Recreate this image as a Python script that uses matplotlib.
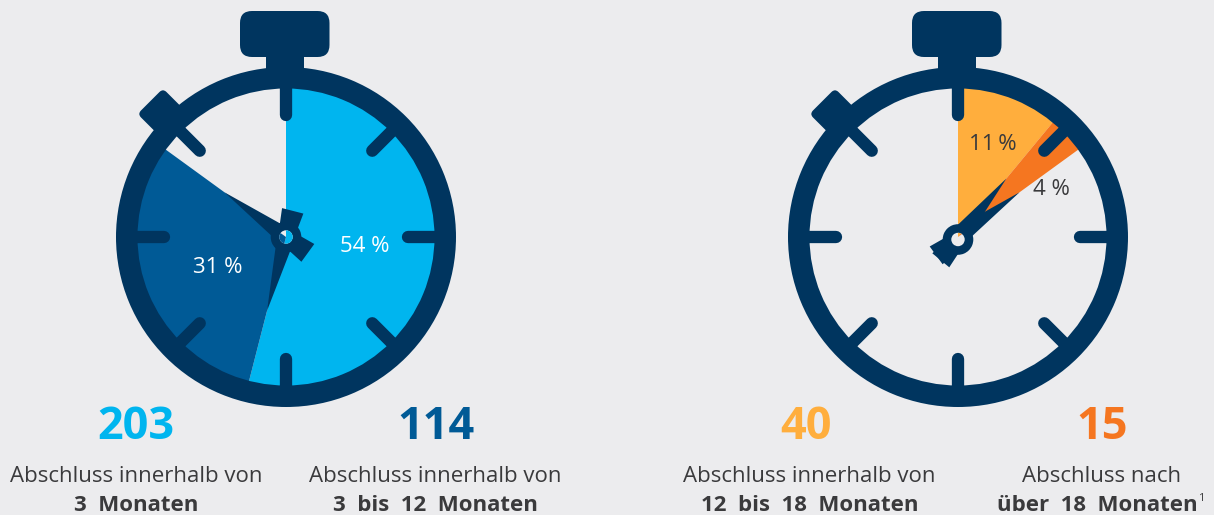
import numpy as np
import matplotlib
matplotlib.use("Agg")
import matplotlib.pyplot as plt
from matplotlib.patches import Wedge, Circle, FancyBboxPatch, Polygon, Rectangle
from matplotlib.transforms import Affine2D

counts = [203, 114, 40, 15]
count_labels_line1 = ["Abschluss innerhalb von", "Abschluss innerhalb von", "Abschluss innerhalb von", "Abschluss nach"]
count_labels_line2 = ["3 Monaten", "3 bis 12 Monaten", "12 bis 18 Monaten", "über 18 Monaten"]
left_shares = [54, 31]
right_shares = [11, 4]
left_share_labels = ["54 %", "31 %"]
right_share_labels = ["11\u2009%", "4 %"]

BG = "#ECECEE"
NAVY = "#00355F"
LIGHT = "#00B5EF"
MID = "#005A96"
YELLOW = "#FFAE3D"
ORANGE = "#F57620"
TEXT = "#3A3A3C"
FONT = "Open Sans"

W, H = 1214, 515
fig = plt.figure(figsize=(W / 100, H / 100), dpi=100, facecolor=BG)
ax = fig.add_axes([0, 0, 1, 1])
ax.set_xlim(0, W)
ax.set_ylim(H, 0)
ax.axis("off")
PX = 72 / 100


def polar(c, r, deg):
    a = np.radians(deg)
    return np.array([c[0] + r * np.sin(a), c[1] - r * np.cos(a)])


def hand(c, deg, length=76, half=9):
    u = polar((0, 0), 1, deg)
    v = np.array([-u[1], u[0]])
    c = np.array(c)
    ax.add_patch(Polygon([c + u * length, c + v * half, c - v * half], closed=True,
                         fc=NAVY, ec="none", zorder=5))


def tail(c, deg, length=27, half0=8, half1=11):
    u = polar((0, 0), 1, deg + 180)
    v = np.array([-u[1], u[0]])
    c = np.array(c)
    ax.add_patch(Polygon([c + v * half0, c + u * length + v * half1,
                          c + u * length - v * half1, c - v * half0], closed=True,
                         fc=NAVY, ec="none", zorder=5))


def watch(cx, cy, shares, colors, hub_dy=0.0):
    c = (cx, cy)
    start = 0.0
    ends = []
    for s, col in zip(shares, colors):
        end = start + s * 3.6
        ax.add_patch(Wedge(c, 152, -90 + start, -90 + end, fc=col, ec="none", zorder=2))
        ends.append(end)
        start = end
    ax.add_patch(Wedge(c, 170, 0, 360, width=21.5, fc=NAVY, ec="none", zorder=4))
    for a in range(0, 360, 45):
        p0, p1 = polar(c, 155, a), polar(c, 122, a)
        ax.plot([p0[0], p1[0]], [p0[1], p1[1]], color=NAVY, lw=12.3 * PX,
                solid_capstyle="round", zorder=4)
    ax.add_patch(FancyBboxPatch((cx - 46, 11), 89.5, 46, boxstyle="round,pad=0,rounding_size=12",
                                fc=NAVY, ec="none", zorder=4))
    ax.add_patch(Rectangle((cx - 20, 50), 37.5, 28, fc=NAVY, ec="none", zorder=4))
    tr = Affine2D().rotate_deg_around(cx, cy, -45) + ax.transData
    ax.add_patch(FancyBboxPatch((cx - 18, cy - 192), 36, 32, boxstyle="round,pad=0,rounding_size=5",
                                fc=NAVY, ec="none", zorder=4, transform=tr))
    hub = (cx, cy + hub_dy)
    for e in ends:
        hand(c, e)
        tail(hub, e)
    ax.add_patch(Wedge(hub, 15.3, 0, 360, width=8.6, fc=NAVY, ec="none", zorder=6))
    ax.add_patch(Circle(hub, 6.7, fc=BG, ec="none", zorder=6))
    for s_start, s_end, col in zip([0.0] + ends[:-1], ends, colors):
        w = Wedge(c, 152, -90 + s_start, -90 + s_end, fc=col, ec="none", zorder=6.5)
        ax.add_patch(w)
        w.set_clip_path(Circle(hub, 6.7, transform=ax.transData))


watch(286, 237, left_shares, [LIGHT, MID])
watch(958, 237, right_shares, [YELLOW, ORANGE], hub_dy=2.5)

pct = dict(fontsize=16, family=FONT, ha="center", va="center_baseline", zorder=7)
ax.text(364.5, 244, left_share_labels[0], color="white", **pct)
ax.text(218, 265, left_share_labels[1], color="white", **pct)
ax.text(992.5, 142, right_share_labels[0], color=TEXT, **pct)
ax.text(1051.5, 187, right_share_labels[1], color=TEXT, **pct)

num_x = [136, 436, 806, 1102]
line1_x = [136, 435, 809.5, 1102]
line2_x = [136.5, 435, 809.5, 1097.5]
num_cols = [LIGHT, MID, YELLOW, ORANGE]
for i in range(4):
    ax.text(num_x[i], 422, str(counts[i]), color=num_cols[i], fontsize=32.5, fontweight="bold",
            family=FONT, ha="center", va="center_baseline")
    ax.text(line1_x[i], 474, count_labels_line1[i], color=TEXT, fontsize=16, family=FONT,
            ha="center", va="center_baseline")
    ax.text(line2_x[i], 503, count_labels_line2[i].replace(" ", "  "), color=TEXT, fontsize=16,
            fontweight="bold", family=FONT, ha="center", va="center_baseline")
ax.text(1201, 497, "1", color=TEXT, fontsize=8, family=FONT, ha="center", va="center_baseline")

fig.savefig("out.png", dpi=100, facecolor=BG)
